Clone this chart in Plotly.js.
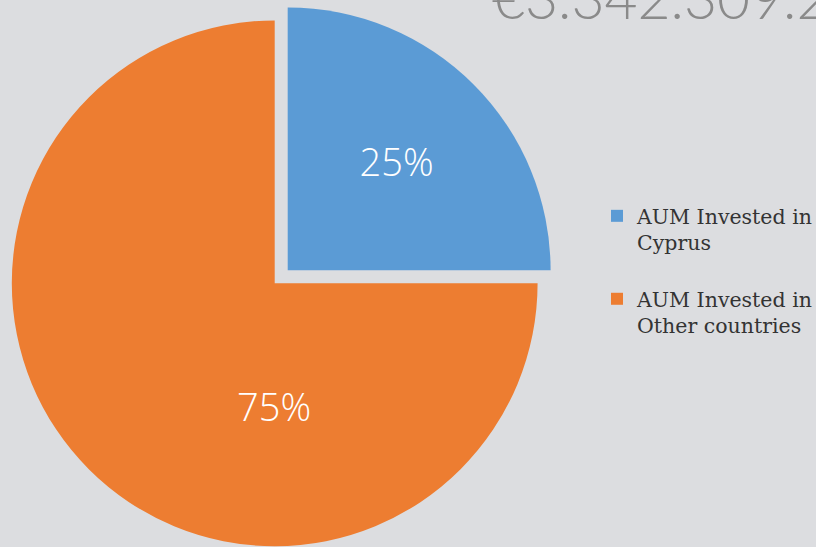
<!DOCTYPE html>
<html>
<head>
<meta charset="utf-8">
<script src="https://cdn.plot.ly/plotly-3.0.1.min.js"></script>
<style>
  html, body { margin: 0; padding: 0; width: 816px; height: 547px; overflow: hidden; background: #dcdde0; }
  #chart { position: absolute; left: -10px; top: -40px; }
</style>
</head>
<body>
<div id="chart"></div>
<script>
// Data
const labels = ['AUM Invested in<br>Cyprus', 'AUM Invested in<br>Other countries'];
const values = [25, 75];
const colors = ['#5B9BD5', '#ED7D31'];
const pulls = [0.07, 0];
const titleText = '€3.342.309.2';

// Layout geometry (pixels; the chart div is shifted by OX, OY so that the
// reference's cropped framing is reproduced)
const OX = 10, OY = 40;
const W = 816 + OX + 150, H = 547 + OY + 30;
const cx = 274.7 + OX, cy = 283.3 + OY, box = 562.6;

const total = values.reduce((a, b) => a + b, 0);
const pct = values.map(v => Math.round(v / total * 100) + '%');

// legend entries: an empty line after each but the last gives the item spacing
const legendLabels = labels.map((l, i) => i < labels.length - 1 ? l + '<br>' : l);

const trace = {
  type: 'pie',
  labels: legendLabels,
  values: values,
  sort: false,
  direction: 'clockwise',
  rotation: 0,
  pull: pulls,
  marker: { colors: colors, line: { width: 0 } },
  texttemplate: '%{percent:.0%}',
  textposition: ['inside', 'none'],
  insidetextorientation: 'horizontal',
  textfont: { family: 'Open Sans', size: 38, color: '#ffffff', weight: 300 },
  hoverinfo: 'none',
  domain: {
    x: [(cx - box / 2) / W, (cx + box / 2) / W],
    y: [1 - (cy + box / 2) / H, 1 - (cy - box / 2) / H]
  }
};

const layout = {
  width: W,
  height: H,
  margin: { l: 0, r: 0, t: 0, b: 0 },
  paper_bgcolor: '#dcdde0',
  plot_bgcolor: '#dcdde0',
  showlegend: true,
  title: {
    text: titleText,
    font: { family: 'Lato', size: 57, color: '#8a8a8a', weight: 300 },
    xref: 'container', yref: 'container',
    x: (492 + OX) / W, xanchor: 'left',
    y: 1 - 19 / H, yanchor: 'top'
  },
  legend: {
    x: (597 + OX) / W, xanchor: 'left',
    y: 1 - (196 + OY) / H, yanchor: 'top',
    valign: 'top',
    font: { family: 'DejaVu Serif', size: 20.5, color: '#333333' },
    bgcolor: 'rgba(0,0,0,0)',
    traceorder: 'normal'
  },
  annotations: [{
    xref: 'paper', yref: 'paper',
    x: (274 + OX) / W, y: 1 - (406 + OY) / H,
    xanchor: 'center', yanchor: 'middle',
    text: pct[1], showarrow: false,
    font: { family: 'Open Sans', size: 38, color: '#ffffff', weight: 300 }
  }]
};

Plotly.newPlot('chart', [trace], layout, { displayModeBar: false, staticPlot: true });
</script>
</body>
</html>
